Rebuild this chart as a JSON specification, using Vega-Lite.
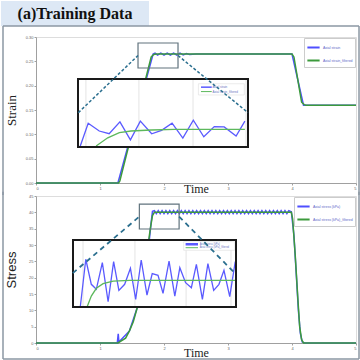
{
  "$schema": "https://vega.github.io/schema/vega-lite/v6.json",
  "padding": 0,
  "spacing": 13,
  "bounds": "flush",
  "background": "white",
  "datasets": {
    "strain": [
      {"t": 0, "v": 0, "s": "Axial strain"},
      {"t": 1.28, "v": 0, "s": "Axial strain"},
      {"t": 1.83, "v": 0.265, "s": "Axial strain"},
      {"t": 1.86, "v": 0.267, "s": "Axial strain"},
      {"t": 1.9, "v": 0.263, "s": "Axial strain"},
      {"t": 1.95, "v": 0.267, "s": "Axial strain"},
      {"t": 2.0, "v": 0.263, "s": "Axial strain"},
      {"t": 2.05, "v": 0.267, "s": "Axial strain"},
      {"t": 2.1, "v": 0.263, "s": "Axial strain"},
      {"t": 2.15, "v": 0.267, "s": "Axial strain"},
      {"t": 2.2, "v": 0.263, "s": "Axial strain"},
      {"t": 2.25, "v": 0.267, "s": "Axial strain"},
      {"t": 2.3, "v": 0.263, "s": "Axial strain"},
      {"t": 2.35, "v": 0.266, "s": "Axial strain"},
      {"t": 2.4, "v": 0.264, "s": "Axial strain"},
      {"t": 2.5, "v": 0.265, "s": "Axial strain"},
      {"t": 4.0, "v": 0.265, "s": "Axial strain"},
      {"t": 4.18, "v": 0.16, "s": "Axial strain"},
      {"t": 5, "v": 0.16, "s": "Axial strain"},
      {"t": 0, "v": 0, "s": "Axial strain_filtered"},
      {"t": 1.29, "v": 0, "s": "Axial strain_filtered"},
      {"t": 1.31, "v": 0.004, "s": "Axial strain_filtered"},
      {"t": 1.8, "v": 0.259, "s": "Axial strain_filtered"},
      {"t": 1.84, "v": 0.264, "s": "Axial strain_filtered"},
      {"t": 1.88, "v": 0.265, "s": "Axial strain_filtered"},
      {"t": 4.0, "v": 0.265, "s": "Axial strain_filtered"},
      {"t": 4.03, "v": 0.259, "s": "Axial strain_filtered"},
      {"t": 4.15, "v": 0.166, "s": "Axial strain_filtered"},
      {"t": 4.19, "v": 0.161, "s": "Axial strain_filtered"},
      {"t": 4.22, "v": 0.16, "s": "Axial strain_filtered"},
      {"t": 5, "v": 0.16, "s": "Axial strain_filtered"}
    ],
    "strainInset": [
      {"t": 1.608, "v": 0.2503, "s": "raw"},
      {"t": 1.636, "v": 0.257, "s": "raw"},
      {"t": 1.675, "v": 0.2547, "s": "raw"},
      {"t": 1.71, "v": 0.2539, "s": "raw"},
      {"t": 1.748, "v": 0.2574, "s": "raw"},
      {"t": 1.785, "v": 0.2521, "s": "raw"},
      {"t": 1.82, "v": 0.2576, "s": "raw"},
      {"t": 1.86, "v": 0.2539, "s": "raw"},
      {"t": 1.895, "v": 0.2549, "s": "raw"},
      {"t": 1.932, "v": 0.257, "s": "raw"},
      {"t": 1.97, "v": 0.2526, "s": "raw"},
      {"t": 2.007, "v": 0.2579, "s": "raw"},
      {"t": 2.044, "v": 0.253, "s": "raw"},
      {"t": 2.081, "v": 0.256, "s": "raw"},
      {"t": 2.116, "v": 0.2559, "s": "raw"},
      {"t": 2.158, "v": 0.2532, "s": "raw"},
      {"t": 2.189, "v": 0.2576, "s": "raw"},
      {"t": 1.664, "v": 0.2503, "s": "filtered"},
      {"t": 1.705, "v": 0.2527, "s": "filtered"},
      {"t": 1.746, "v": 0.2542, "s": "filtered"},
      {"t": 1.787, "v": 0.2547, "s": "filtered"},
      {"t": 1.858, "v": 0.255, "s": "filtered"},
      {"t": 1.94, "v": 0.2552, "s": "filtered"},
      {"t": 2.189, "v": 0.2552, "s": "filtered"}
    ],
    "strainInsetGrid": [{"t": 1.628}, {"t": 1.815}, {"t": 2.006}, {"t": 2.193}],
    "strainLinks": [
      {"t": 0.661, "v": 0.1445, "g": "a"},
      {"t": 1.594, "v": 0.262, "g": "a"},
      {"t": 2.219, "v": 0.262, "g": "b"},
      {"t": 3.3125, "v": 0.1445, "g": "b"}
    ],
    "stress": [
      {"t": 0, "v": 0, "s": "Axial stress (kPa)"},
      {"t": 1.27, "v": 0, "s": "Axial stress (kPa)"},
      {"t": 1.285, "v": 2.8, "s": "Axial stress (kPa)"},
      {"t": 1.295, "v": 0.3, "s": "Axial stress (kPa)"},
      {"t": 1.46, "v": 3.7, "s": "Axial stress (kPa)"},
      {"t": 1.58, "v": 10.7, "s": "Axial stress (kPa)"},
      {"t": 1.66, "v": 19, "s": "Axial stress (kPa)"},
      {"t": 1.72, "v": 26, "s": "Axial stress (kPa)"},
      {"t": 1.77, "v": 31.5, "s": "Axial stress (kPa)"},
      {"t": 1.8, "v": 37, "s": "Axial stress (kPa)"},
      {"t": 1.82, "v": 40.3, "s": "Axial stress (kPa)"},
      {"t": 1.85, "v": 40.5, "s": "Axial stress (kPa)"},
      {"t": 1.88, "v": 39.6, "s": "Axial stress (kPa)"},
      {"t": 1.91, "v": 40.5, "s": "Axial stress (kPa)"},
      {"t": 1.94, "v": 39.6, "s": "Axial stress (kPa)"},
      {"t": 1.97, "v": 40.5, "s": "Axial stress (kPa)"},
      {"t": 2.0, "v": 39.6, "s": "Axial stress (kPa)"},
      {"t": 2.03, "v": 40.5, "s": "Axial stress (kPa)"},
      {"t": 2.06, "v": 39.6, "s": "Axial stress (kPa)"},
      {"t": 2.09, "v": 40.5, "s": "Axial stress (kPa)"},
      {"t": 2.12, "v": 39.6, "s": "Axial stress (kPa)"},
      {"t": 2.15, "v": 40.5, "s": "Axial stress (kPa)"},
      {"t": 2.18, "v": 39.6, "s": "Axial stress (kPa)"},
      {"t": 2.21, "v": 40.5, "s": "Axial stress (kPa)"},
      {"t": 2.24, "v": 39.6, "s": "Axial stress (kPa)"},
      {"t": 2.27, "v": 40.5, "s": "Axial stress (kPa)"},
      {"t": 2.3, "v": 39.6, "s": "Axial stress (kPa)"},
      {"t": 2.33, "v": 40.5, "s": "Axial stress (kPa)"},
      {"t": 2.36, "v": 39.6, "s": "Axial stress (kPa)"},
      {"t": 2.39, "v": 40.5, "s": "Axial stress (kPa)"},
      {"t": 2.42, "v": 39.6, "s": "Axial stress (kPa)"},
      {"t": 2.45, "v": 40.5, "s": "Axial stress (kPa)"},
      {"t": 2.48, "v": 39.6, "s": "Axial stress (kPa)"},
      {"t": 2.51, "v": 40.5, "s": "Axial stress (kPa)"},
      {"t": 2.54, "v": 39.6, "s": "Axial stress (kPa)"},
      {"t": 2.57, "v": 40.5, "s": "Axial stress (kPa)"},
      {"t": 2.6, "v": 39.6, "s": "Axial stress (kPa)"},
      {"t": 2.63, "v": 40.5, "s": "Axial stress (kPa)"},
      {"t": 2.66, "v": 39.6, "s": "Axial stress (kPa)"},
      {"t": 2.69, "v": 40.5, "s": "Axial stress (kPa)"},
      {"t": 2.72, "v": 39.6, "s": "Axial stress (kPa)"},
      {"t": 2.75, "v": 40.5, "s": "Axial stress (kPa)"},
      {"t": 2.78, "v": 39.6, "s": "Axial stress (kPa)"},
      {"t": 2.81, "v": 40.5, "s": "Axial stress (kPa)"},
      {"t": 2.84, "v": 39.6, "s": "Axial stress (kPa)"},
      {"t": 2.87, "v": 40.5, "s": "Axial stress (kPa)"},
      {"t": 2.9, "v": 39.6, "s": "Axial stress (kPa)"},
      {"t": 2.93, "v": 40.5, "s": "Axial stress (kPa)"},
      {"t": 2.96, "v": 39.6, "s": "Axial stress (kPa)"},
      {"t": 2.99, "v": 40.5, "s": "Axial stress (kPa)"},
      {"t": 3.02, "v": 39.6, "s": "Axial stress (kPa)"},
      {"t": 3.05, "v": 40.5, "s": "Axial stress (kPa)"},
      {"t": 3.08, "v": 39.6, "s": "Axial stress (kPa)"},
      {"t": 3.11, "v": 40.5, "s": "Axial stress (kPa)"},
      {"t": 3.14, "v": 39.6, "s": "Axial stress (kPa)"},
      {"t": 3.17, "v": 40.5, "s": "Axial stress (kPa)"},
      {"t": 3.2, "v": 39.6, "s": "Axial stress (kPa)"},
      {"t": 3.23, "v": 40.5, "s": "Axial stress (kPa)"},
      {"t": 3.26, "v": 39.6, "s": "Axial stress (kPa)"},
      {"t": 3.29, "v": 40.5, "s": "Axial stress (kPa)"},
      {"t": 3.32, "v": 39.6, "s": "Axial stress (kPa)"},
      {"t": 3.35, "v": 40.5, "s": "Axial stress (kPa)"},
      {"t": 3.38, "v": 39.6, "s": "Axial stress (kPa)"},
      {"t": 3.41, "v": 40.5, "s": "Axial stress (kPa)"},
      {"t": 3.44, "v": 39.6, "s": "Axial stress (kPa)"},
      {"t": 3.47, "v": 40.5, "s": "Axial stress (kPa)"},
      {"t": 3.5, "v": 39.6, "s": "Axial stress (kPa)"},
      {"t": 3.53, "v": 40.5, "s": "Axial stress (kPa)"},
      {"t": 3.56, "v": 39.6, "s": "Axial stress (kPa)"},
      {"t": 3.59, "v": 40.5, "s": "Axial stress (kPa)"},
      {"t": 3.62, "v": 39.6, "s": "Axial stress (kPa)"},
      {"t": 3.65, "v": 40.5, "s": "Axial stress (kPa)"},
      {"t": 3.68, "v": 39.6, "s": "Axial stress (kPa)"},
      {"t": 3.71, "v": 40.5, "s": "Axial stress (kPa)"},
      {"t": 3.74, "v": 39.6, "s": "Axial stress (kPa)"},
      {"t": 3.77, "v": 40.5, "s": "Axial stress (kPa)"},
      {"t": 3.8, "v": 39.6, "s": "Axial stress (kPa)"},
      {"t": 3.83, "v": 40.5, "s": "Axial stress (kPa)"},
      {"t": 3.86, "v": 39.6, "s": "Axial stress (kPa)"},
      {"t": 3.89, "v": 40.5, "s": "Axial stress (kPa)"},
      {"t": 3.92, "v": 39.6, "s": "Axial stress (kPa)"},
      {"t": 3.95, "v": 40.5, "s": "Axial stress (kPa)"},
      {"t": 3.99, "v": 40.2, "s": "Axial stress (kPa)"},
      {"t": 4.03, "v": 33, "s": "Axial stress (kPa)"},
      {"t": 4.07, "v": 20, "s": "Axial stress (kPa)"},
      {"t": 4.1, "v": 10, "s": "Axial stress (kPa)"},
      {"t": 4.13, "v": 3, "s": "Axial stress (kPa)"},
      {"t": 4.16, "v": 0.3, "s": "Axial stress (kPa)"},
      {"t": 4.2, "v": 0, "s": "Axial stress (kPa)"},
      {"t": 5, "v": 0, "s": "Axial stress (kPa)"},
      {"t": 0, "v": 0, "s": "Axial stress (kPa)_filtered"},
      {"t": 1.28, "v": 0, "s": "Axial stress (kPa)_filtered"},
      {"t": 1.4, "v": 1.5, "s": "Axial stress (kPa)_filtered"},
      {"t": 1.46, "v": 3.7, "s": "Axial stress (kPa)_filtered"},
      {"t": 1.52, "v": 6.5, "s": "Axial stress (kPa)_filtered"},
      {"t": 1.58, "v": 10.7, "s": "Axial stress (kPa)_filtered"},
      {"t": 1.64, "v": 16.5, "s": "Axial stress (kPa)_filtered"},
      {"t": 1.7, "v": 24, "s": "Axial stress (kPa)_filtered"},
      {"t": 1.75, "v": 30, "s": "Axial stress (kPa)_filtered"},
      {"t": 1.79, "v": 35.5, "s": "Axial stress (kPa)_filtered"},
      {"t": 1.82, "v": 39, "s": "Axial stress (kPa)_filtered"},
      {"t": 1.85, "v": 40, "s": "Axial stress (kPa)_filtered"},
      {"t": 3.99, "v": 40, "s": "Axial stress (kPa)_filtered"},
      {"t": 4.01, "v": 38, "s": "Axial stress (kPa)_filtered"},
      {"t": 4.05, "v": 27, "s": "Axial stress (kPa)_filtered"},
      {"t": 4.09, "v": 14, "s": "Axial stress (kPa)_filtered"},
      {"t": 4.12, "v": 5, "s": "Axial stress (kPa)_filtered"},
      {"t": 4.15, "v": 1, "s": "Axial stress (kPa)_filtered"},
      {"t": 4.18, "v": 0, "s": "Axial stress (kPa)_filtered"},
      {"t": 5, "v": 0, "s": "Axial stress (kPa)_filtered"}
    ],
    "stressInset": [
      {"t": 1.629, "v": 36.0, "s": "raw"},
      {"t": 1.651, "v": 41.7, "s": "raw"},
      {"t": 1.673, "v": 38.71, "s": "raw"},
      {"t": 1.693, "v": 38.11, "s": "raw"},
      {"t": 1.717, "v": 41.29, "s": "raw"},
      {"t": 1.74, "v": 36.63, "s": "raw"},
      {"t": 1.762, "v": 41.41, "s": "raw"},
      {"t": 1.783, "v": 37.99, "s": "raw"},
      {"t": 1.806, "v": 38.71, "s": "raw"},
      {"t": 1.829, "v": 40.62, "s": "raw"},
      {"t": 1.85, "v": 36.92, "s": "raw"},
      {"t": 1.872, "v": 41.61, "s": "raw"},
      {"t": 1.895, "v": 37.43, "s": "raw"},
      {"t": 1.916, "v": 39.98, "s": "raw"},
      {"t": 1.939, "v": 39.79, "s": "raw"},
      {"t": 1.959, "v": 37.64, "s": "raw"},
      {"t": 1.983, "v": 41.49, "s": "raw"},
      {"t": 2.006, "v": 37.31, "s": "raw"},
      {"t": 2.026, "v": 40.69, "s": "raw"},
      {"t": 2.049, "v": 38.9, "s": "raw"},
      {"t": 2.072, "v": 38.3, "s": "raw"},
      {"t": 2.092, "v": 41.1, "s": "raw"},
      {"t": 2.116, "v": 36.92, "s": "raw"},
      {"t": 2.138, "v": 41.17, "s": "raw"},
      {"t": 2.161, "v": 37.99, "s": "raw"},
      {"t": 2.182, "v": 38.71, "s": "raw"},
      {"t": 2.202, "v": 40.38, "s": "raw"},
      {"t": 2.225, "v": 37.23, "s": "raw"},
      {"t": 2.247, "v": 41.41, "s": "raw"},
      {"t": 1.656, "v": 36.0, "s": "filtered"},
      {"t": 1.673, "v": 37.31, "s": "filtered"},
      {"t": 1.693, "v": 38.23, "s": "filtered"},
      {"t": 1.72, "v": 38.78, "s": "filtered"},
      {"t": 1.76, "v": 39.1, "s": "filtered"},
      {"t": 1.826, "v": 39.19, "s": "filtered"},
      {"t": 2.247, "v": 39.19, "s": "filtered"}
    ],
    "stressInsetGrid": [{"t": 1.64}, {"t": 1.847}, {"t": 2.051}, {"t": 2.23}],
    "stressLinks": [
      {"t": 0.575, "v": 21.4, "g": "a"},
      {"t": 1.615, "v": 38.7, "g": "a"},
      {"t": 2.236, "v": 38.7, "g": "b"},
      {"t": 3.106, "v": 21.4, "g": "b"}
    ]
  },
  "vconcat": [
    {
      "width": 320,
      "height": 146,
      "resolve": {"scale": {"x": "independent", "y": "independent"}},
      "layer": [
        {
          "data": {"values": [{}]},
          "mark": {"type": "rect", "fill": "#dde8f5", "stroke": null},
          "encoding": {
            "x": {"datum": -0.547, "type": "quantitative", "scale": {"domain": [0, 5], "nice": false, "zero": false}, "axis": null},
            "x2": {"datum": 1.766},
            "y": {"datum": 0.3226, "type": "quantitative", "scale": {"domain": [0, 0.3], "nice": false, "zero": false}, "axis": null},
            "y2": {"datum": 0.374}
          }
        },
        {
          "data": {"values": [{"title": "(a)Training Data"}]},
          "mark": {"type": "text", "font": "Liberation Serif", "fontSize": 16, "fontWeight": "bold", "color": "#111111", "baseline": "middle", "align": "center"},
          "encoding": {
            "x": {"datum": 0.609, "type": "quantitative", "scale": {"domain": [0, 5], "nice": false, "zero": false}, "axis": null},
            "y": {"datum": 0.3473, "type": "quantitative", "scale": {"domain": [0, 0.3], "nice": false, "zero": false}, "axis": null},
            "text": {"field": "title"}
          }
        },
        {
          "data": {"values": [{}]},
          "mark": {"type": "rule", "color": "#8b97a3", "strokeWidth": 1.5},
          "encoding": {
            "x": {"datum": -0.5156, "type": "quantitative", "scale": {"domain": [0, 5], "nice": false, "zero": false}, "axis": null},
            "y": {"datum": 0.3226, "type": "quantitative", "scale": {"domain": [0, 0.3], "nice": false, "zero": false}, "axis": null},
            "y2": {"datum": -0.0247}
          }
        },
        {
          "data": {"values": [{}]},
          "mark": {"type": "rule", "color": "#8b97a3", "strokeWidth": 1.5},
          "encoding": {
            "x": {"datum": 5.047, "type": "quantitative", "scale": {"domain": [0, 5], "nice": false, "zero": false}, "axis": null},
            "y": {"datum": 0.3226, "type": "quantitative", "scale": {"domain": [0, 0.3], "nice": false, "zero": false}, "axis": null},
            "y2": {"datum": -0.0247}
          }
        },
        {
          "data": {"values": [{}]},
          "mark": {"type": "rule", "color": "#8b97a3", "strokeWidth": 1.5},
          "encoding": {
            "x": {"datum": -0.5156, "type": "quantitative", "scale": {"domain": [0, 5], "nice": false, "zero": false}, "axis": null},
            "x2": {"datum": 5.047},
            "y": {"datum": 0.3226, "type": "quantitative", "scale": {"domain": [0, 0.3], "nice": false, "zero": false}, "axis": null}
          }
        },
        {
          "data": {"name": "strain"},
          "transform": [{"filter": "datum.s === 'Axial strain'"}],
          "mark": {"type": "line", "strokeWidth": 1.5},
          "encoding": {
            "x": {"field": "t", "type": "quantitative", "scale": {"domain": [0, 5], "nice": false, "zero": false},
              "axis": {"values": [0, 1, 2, 3, 4, 5], "title": "Time", "titleFont": "Liberation Serif", "titleFontSize": 12, "titleFontWeight": "normal", "titleColor": "#222222", "titlePadding": -7}},
            "y": {"field": "v", "type": "quantitative", "scale": {"domain": [0, 0.3], "nice": false, "zero": false},
              "axis": {"values": [0, 0.05, 0.1, 0.15, 0.2, 0.25, 0.3], "format": ".2f", "title": "Strain", "titleFont": "Liberation Serif", "titleFontSize": 13, "titleFontWeight": "normal", "titleColor": "#222222", "titlePadding": 7}},
            "color": {"field": "s", "type": "nominal",
              "scale": {"domain": ["Axial strain", "Axial strain_filtered"], "range": ["#4f4fff", "#3c9a3c"]},
              "legend": {"orient": "top-right", "offset": 1, "padding": 2, "fillColor": "white", "strokeColor": "#cccccc", "labelFont": "Liberation Sans", "labelFontSize": 3.5, "labelColor": "#5b66c8", "symbolType": "stroke", "symbolStrokeWidth": 2, "symbolSize": 150, "rowPadding": 1, "title": null, "labelOffset": 2}}
          }
        },
        {
          "data": {"name": "strain"},
          "transform": [{"filter": "datum.s === 'Axial strain_filtered'"}],
          "mark": {"type": "line", "strokeWidth": 1.5},
          "encoding": {
            "x": {"field": "t", "type": "quantitative", "scale": {"domain": [0, 5], "nice": false, "zero": false}, "axis": null},
            "y": {"field": "v", "type": "quantitative", "scale": {"domain": [0, 0.3], "nice": false, "zero": false}, "axis": null},
            "color": {"field": "s", "type": "nominal"}
          }
        },
        {
          "data": {"values": [{}]},
          "mark": {"type": "rect", "fill": null, "fillOpacity": 0, "stroke": "#60737d", "strokeWidth": 1.2},
          "encoding": {
            "x": {"datum": 1.594, "type": "quantitative", "scale": {"domain": [0, 5], "nice": false, "zero": false}, "axis": null},
            "x2": {"datum": 2.219},
            "y": {"datum": 0.2363, "type": "quantitative", "scale": {"domain": [0, 0.3], "nice": false, "zero": false}, "axis": null},
            "y2": {"datum": 0.2877}
          }
        },
        {
          "data": {"values": [{}]},
          "mark": {"type": "rect", "fill": "white", "stroke": null},
          "encoding": {
            "x": {"datum": 1.6, "type": "quantitative", "scale": {"domain": [1.6, 2.2], "range": [42, 212], "nice": false, "zero": false}, "axis": null},
            "x2": {"datum": 2.2},
            "y": {"datum": 0.25, "type": "quantitative", "scale": {"domain": [0.25, 0.27], "range": [110, 42], "nice": false, "zero": false}, "axis": null},
            "y2": {"datum": 0.27}
          }
        },
        {
          "data": {"name": "strainInsetGrid"},
          "mark": {"type": "rule", "color": "#e4e4e4", "strokeWidth": 1},
          "encoding": {
            "x": {"field": "t", "type": "quantitative", "scale": {"domain": [1.6, 2.2], "range": [42, 212], "nice": false, "zero": false}, "axis": null},
            "y": {"datum": 0.25, "type": "quantitative", "scale": {"domain": [0.25, 0.27], "range": [110, 42], "nice": false, "zero": false}, "axis": null},
            "y2": {"datum": 0.27}
          }
        },
        {
          "data": {"name": "strainInset"},
          "transform": [{"filter": "datum.s === 'raw'"}],
          "mark": {"type": "line", "color": "#5a5aff", "strokeWidth": 1.3},
          "encoding": {
            "x": {"field": "t", "type": "quantitative", "scale": {"domain": [1.6, 2.2], "range": [42, 212], "nice": false, "zero": false}, "axis": null},
            "y": {"field": "v", "type": "quantitative", "scale": {"domain": [0.25, 0.27], "range": [110, 42], "nice": false, "zero": false}, "axis": null}
          }
        },
        {
          "data": {"name": "strainInset"},
          "transform": [{"filter": "datum.s === 'filtered'"}],
          "mark": {"type": "line", "color": "#5cb85c", "strokeWidth": 1.3},
          "encoding": {
            "x": {"field": "t", "type": "quantitative", "scale": {"domain": [1.6, 2.2], "range": [42, 212], "nice": false, "zero": false}, "axis": null},
            "y": {"field": "v", "type": "quantitative", "scale": {"domain": [0.25, 0.27], "range": [110, 42], "nice": false, "zero": false}, "axis": null}
          }
        },
        {
          "data": {"values": [{}]},
          "mark": {"type": "rect", "fill": "white", "stroke": "#dddddd", "strokeWidth": 0.6},
          "encoding": {
            "x": {"datum": 2.025, "type": "quantitative", "scale": {"domain": [1.6, 2.2], "range": [42, 212], "nice": false, "zero": false}, "axis": null},
            "x2": {"datum": 2.187},
            "y": {"datum": 0.2653, "type": "quantitative", "scale": {"domain": [0.25, 0.27], "range": [110, 42], "nice": false, "zero": false}, "axis": null},
            "y2": {"datum": 0.2686}
          }
        },
        {
          "data": {"values": [{}]},
          "mark": {"type": "rule", "color": "#5a5aff", "strokeWidth": 1.5},
          "encoding": {
            "x": {"datum": 2.034, "type": "quantitative", "scale": {"domain": [1.6, 2.2], "range": [42, 212], "nice": false, "zero": false}, "axis": null},
            "x2": {"datum": 2.072},
            "y": {"datum": 0.2676, "type": "quantitative", "scale": {"domain": [0.25, 0.27], "range": [110, 42], "nice": false, "zero": false}, "axis": null}
          }
        },
        {
          "data": {"values": [{}]},
          "mark": {"type": "rule", "color": "#5cb85c", "strokeWidth": 1},
          "encoding": {
            "x": {"datum": 2.034, "type": "quantitative", "scale": {"domain": [1.6, 2.2], "range": [42, 212], "nice": false, "zero": false}, "axis": null},
            "x2": {"datum": 2.072},
            "y": {"datum": 0.2663, "type": "quantitative", "scale": {"domain": [0.25, 0.27], "range": [110, 42], "nice": false, "zero": false}, "axis": null}
          }
        },
        {
          "data": {"values": [{"label": "Axial strain", "t": 2.075, "v": 0.2676}, {"label": "Axial strain_filtered", "t": 2.075, "v": 0.2663}]},
          "mark": {"type": "text", "font": "Liberation Sans", "fontSize": 3, "align": "left", "baseline": "middle", "color": "#6a74c0"},
          "encoding": {
            "x": {"field": "t", "type": "quantitative", "scale": {"domain": [1.6, 2.2], "range": [42, 212], "nice": false, "zero": false}, "axis": null},
            "y": {"field": "v", "type": "quantitative", "scale": {"domain": [0.25, 0.27], "range": [110, 42], "nice": false, "zero": false}, "axis": null},
            "text": {"field": "label"}
          }
        },
        {
          "data": {"values": [{}]},
          "mark": {"type": "rect", "fill": null, "fillOpacity": 0, "stroke": "#1a1a1a", "strokeWidth": 2},
          "encoding": {
            "x": {"datum": 1.6, "type": "quantitative", "scale": {"domain": [1.6, 2.2], "range": [42, 212], "nice": false, "zero": false}, "axis": null},
            "x2": {"datum": 2.2},
            "y": {"datum": 0.25, "type": "quantitative", "scale": {"domain": [0.25, 0.27], "range": [110, 42], "nice": false, "zero": false}, "axis": null},
            "y2": {"datum": 0.27}
          }
        },
        {
          "data": {"name": "strainLinks"},
          "mark": {"type": "line", "color": "#2b6f8f", "strokeWidth": 1.5, "strokeDash": [3, 2]},
          "encoding": {
            "x": {"field": "t", "type": "quantitative", "scale": {"domain": [0, 5], "nice": false, "zero": false}, "axis": null},
            "y": {"field": "v", "type": "quantitative", "scale": {"domain": [0, 0.3], "nice": false, "zero": false}, "axis": null},
            "detail": {"field": "g"}
          }
        }
      ]
    },
    {
      "width": 320,
      "height": 147,
      "resolve": {"scale": {"x": "independent", "y": "independent"}},
      "layer": [
        {
          "data": {"values": [{}]},
          "mark": {"type": "rule", "color": "#8b97a3", "strokeWidth": 1.5},
          "encoding": {
            "x": {"datum": -0.5156, "type": "quantitative", "scale": {"domain": [0, 5], "nice": false, "zero": false}, "axis": null},
            "y": {"datum": 46.3, "type": "quantitative", "scale": {"domain": [0, 45], "nice": false, "zero": false}, "axis": null},
            "y2": {"datum": -4.9}
          }
        },
        {
          "data": {"values": [{}]},
          "mark": {"type": "rule", "color": "#8b97a3", "strokeWidth": 1.5},
          "encoding": {
            "x": {"datum": 5.047, "type": "quantitative", "scale": {"domain": [0, 5], "nice": false, "zero": false}, "axis": null},
            "y": {"datum": 46.3, "type": "quantitative", "scale": {"domain": [0, 45], "nice": false, "zero": false}, "axis": null},
            "y2": {"datum": -4.9}
          }
        },
        {
          "data": {"values": [{}]},
          "mark": {"type": "rule", "color": "#8b97a3", "strokeWidth": 1.5},
          "encoding": {
            "x": {"datum": -0.5156, "type": "quantitative", "scale": {"domain": [0, 5], "nice": false, "zero": false}, "axis": null},
            "x2": {"datum": 5.047},
            "y": {"datum": -4.9, "type": "quantitative", "scale": {"domain": [0, 45], "nice": false, "zero": false}, "axis": null}
          }
        },
        {
          "data": {"name": "stress"},
          "transform": [{"filter": "datum.s === 'Axial stress (kPa)'"}],
          "mark": {"type": "line", "strokeWidth": 1.5},
          "encoding": {
            "x": {"field": "t", "type": "quantitative", "scale": {"domain": [0, 5], "nice": false, "zero": false},
              "axis": {"values": [0, 1, 2, 3, 4, 5], "title": "Time", "titleFont": "Liberation Serif", "titleFontSize": 12, "titleFontWeight": "normal", "titleColor": "#222222", "titlePadding": -3}},
            "y": {"field": "v", "type": "quantitative", "scale": {"domain": [0, 45], "nice": false, "zero": false},
              "axis": {"values": [0, 5, 10, 15, 20, 25, 30, 35, 40, 45], "format": "d", "title": "Stress", "titleFont": "Liberation Sans", "titleFontSize": 13, "titleFontWeight": "normal", "titleColor": "#222222", "titlePadding": 10}},
            "color": {"field": "s", "type": "nominal",
              "scale": {"domain": ["Axial stress (kPa)", "Axial stress (kPa)_filtered"], "range": ["#4f4fff", "#3c9a3c"]},
              "legend": {"orient": "top-right", "offset": 1, "padding": 2, "fillColor": "white", "strokeColor": "#cccccc", "labelFont": "Liberation Sans", "labelFontSize": 3.5, "labelColor": "#5b66c8", "symbolType": "stroke", "symbolStrokeWidth": 2, "symbolSize": 150, "rowPadding": 1, "title": null, "labelOffset": 2}}
          }
        },
        {
          "data": {"name": "stress"},
          "transform": [{"filter": "datum.s === 'Axial stress (kPa)_filtered'"}],
          "mark": {"type": "line", "strokeWidth": 1.5},
          "encoding": {
            "x": {"field": "t", "type": "quantitative", "scale": {"domain": [0, 5], "nice": false, "zero": false}, "axis": null},
            "y": {"field": "v", "type": "quantitative", "scale": {"domain": [0, 45], "nice": false, "zero": false}, "axis": null},
            "color": {"field": "s", "type": "nominal"}
          }
        },
        {
          "data": {"values": [{}]},
          "mark": {"type": "rect", "fill": null, "fillOpacity": 0, "stroke": "#60737d", "strokeWidth": 1.2},
          "encoding": {
            "x": {"datum": 1.615, "type": "quantitative", "scale": {"domain": [0, 5], "nice": false, "zero": false}, "axis": null},
            "x2": {"datum": 2.236},
            "y": {"datum": 34.9, "type": "quantitative", "scale": {"domain": [0, 45], "nice": false, "zero": false}, "axis": null},
            "y2": {"datum": 42.5}
          }
        },
        {
          "data": {"values": [{}]},
          "mark": {"type": "rect", "fill": "white", "stroke": null},
          "encoding": {
            "x": {"datum": 1.6, "type": "quantitative", "scale": {"domain": [1.6, 2.25], "range": [37, 200], "nice": false, "zero": false}, "axis": null},
            "x2": {"datum": 2.25},
            "y": {"datum": 36, "type": "quantitative", "scale": {"domain": [36, 44], "range": [111, 44], "nice": false, "zero": false}, "axis": null},
            "y2": {"datum": 44}
          }
        },
        {
          "data": {"name": "stressInsetGrid"},
          "mark": {"type": "rule", "color": "#e4e4e4", "strokeWidth": 1},
          "encoding": {
            "x": {"field": "t", "type": "quantitative", "scale": {"domain": [1.6, 2.25], "range": [37, 200], "nice": false, "zero": false}, "axis": null},
            "y": {"datum": 36, "type": "quantitative", "scale": {"domain": [36, 44], "range": [111, 44], "nice": false, "zero": false}, "axis": null},
            "y2": {"datum": 44}
          }
        },
        {
          "data": {"name": "stressInset"},
          "transform": [{"filter": "datum.s === 'raw'"}],
          "mark": {"type": "line", "color": "#5a5aff", "strokeWidth": 1.3},
          "encoding": {
            "x": {"field": "t", "type": "quantitative", "scale": {"domain": [1.6, 2.25], "range": [37, 200], "nice": false, "zero": false}, "axis": null},
            "y": {"field": "v", "type": "quantitative", "scale": {"domain": [36, 44], "range": [111, 44], "nice": false, "zero": false}, "axis": null}
          }
        },
        {
          "data": {"name": "stressInset"},
          "transform": [{"filter": "datum.s === 'filtered'"}],
          "mark": {"type": "line", "color": "#5cb85c", "strokeWidth": 1.3},
          "encoding": {
            "x": {"field": "t", "type": "quantitative", "scale": {"domain": [1.6, 2.25], "range": [37, 200], "nice": false, "zero": false}, "axis": null},
            "y": {"field": "v", "type": "quantitative", "scale": {"domain": [36, 44], "range": [111, 44], "nice": false, "zero": false}, "axis": null}
          }
        },
        {
          "data": {"values": [{}]},
          "mark": {"type": "rect", "fill": "white", "stroke": "#dddddd", "strokeWidth": 0.6},
          "encoding": {
            "x": {"datum": 2.0415, "type": "quantitative", "scale": {"domain": [1.6, 2.25], "range": [37, 200], "nice": false, "zero": false}, "axis": null},
            "x2": {"datum": 2.245},
            "y": {"datum": 42.77, "type": "quantitative", "scale": {"domain": [36, 44], "range": [111, 44], "nice": false, "zero": false}, "axis": null},
            "y2": {"datum": 43.8}
          }
        },
        {
          "data": {"values": [{}]},
          "mark": {"type": "rule", "color": "#5a5aff", "strokeWidth": 2.5},
          "encoding": {
            "x": {"datum": 2.049, "type": "quantitative", "scale": {"domain": [1.6, 2.25], "range": [37, 200], "nice": false, "zero": false}, "axis": null},
            "x2": {"datum": 2.0985},
            "y": {"datum": 43.49, "type": "quantitative", "scale": {"domain": [36, 44], "range": [111, 44], "nice": false, "zero": false}, "axis": null}
          }
        },
        {
          "data": {"values": [{}]},
          "mark": {"type": "rule", "color": "#5cb85c", "strokeWidth": 1},
          "encoding": {
            "x": {"datum": 2.049, "type": "quantitative", "scale": {"domain": [1.6, 2.25], "range": [37, 200], "nice": false, "zero": false}, "axis": null},
            "x2": {"datum": 2.0985},
            "y": {"datum": 43.08, "type": "quantitative", "scale": {"domain": [36, 44], "range": [111, 44], "nice": false, "zero": false}, "axis": null}
          }
        },
        {
          "data": {"values": [{"label": "Axial stress (kPa)", "t": 2.105, "v": 43.49}, {"label": "Axial stress (kPa)_filtered", "t": 2.105, "v": 43.08}]},
          "mark": {"type": "text", "font": "Liberation Sans", "fontSize": 2.6, "align": "left", "baseline": "middle", "color": "#6a74c0"},
          "encoding": {
            "x": {"field": "t", "type": "quantitative", "scale": {"domain": [1.6, 2.25], "range": [37, 200], "nice": false, "zero": false}, "axis": null},
            "y": {"field": "v", "type": "quantitative", "scale": {"domain": [36, 44], "range": [111, 44], "nice": false, "zero": false}, "axis": null},
            "text": {"field": "label"}
          }
        },
        {
          "data": {"values": [{}]},
          "mark": {"type": "rect", "fill": null, "fillOpacity": 0, "stroke": "#1a1a1a", "strokeWidth": 2},
          "encoding": {
            "x": {"datum": 1.6, "type": "quantitative", "scale": {"domain": [1.6, 2.25], "range": [37, 200], "nice": false, "zero": false}, "axis": null},
            "x2": {"datum": 2.25},
            "y": {"datum": 36, "type": "quantitative", "scale": {"domain": [36, 44], "range": [111, 44], "nice": false, "zero": false}, "axis": null},
            "y2": {"datum": 44}
          }
        },
        {
          "data": {"name": "stressLinks"},
          "mark": {"type": "line", "color": "#2b6f8f", "strokeWidth": 1.8, "strokeDash": [5, 4]},
          "encoding": {
            "x": {"field": "t", "type": "quantitative", "scale": {"domain": [0, 5], "nice": false, "zero": false}, "axis": null},
            "y": {"field": "v", "type": "quantitative", "scale": {"domain": [0, 45], "nice": false, "zero": false}, "axis": null},
            "detail": {"field": "g"}
          }
        }
      ]
    }
  ],
  "resolve": {"scale": {"color": "independent"}},
  "config": {
    "view": {"stroke": "#dddddd"},
    "axis": {
      "gridColor": "#e6e6e6",
      "domainColor": "#a0a0a0",
      "tickColor": "#a0a0a0",
      "tickSize": 2,
      "labelFontSize": 4,
      "labelColor": "#666666",
      "labelFont": "Liberation Sans",
      "labelPadding": 1
    }
  }
}
